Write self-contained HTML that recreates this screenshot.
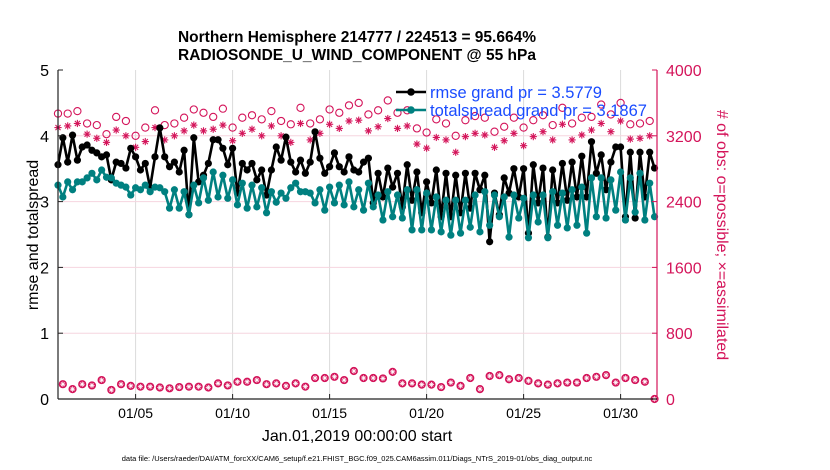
<!DOCTYPE html>
<html><head><meta charset="utf-8">
<style>
html,body{margin:0;padding:0;background:#fff;}
svg{display:block;font-family:"Liberation Sans",sans-serif;}
</style></head>
<body>
<svg id="chart" width="830" height="470" viewBox="0 0 830 470" xmlns="http://www.w3.org/2000/svg">
<text x="357" y="42" text-anchor="middle" font-size="15.5" font-weight="bold">Northern Hemisphere 214777 / 224513 = 95.664%</text>
<text x="357" y="60" text-anchor="middle" font-size="15.5" font-weight="bold">RADIOSONDE_U_WIND_COMPONENT @ 55 hPa</text>
<g id="grid"></g>
<g id="marks"></g>
<g id="axes"></g>
<text transform="translate(38,235) rotate(-90)" text-anchor="middle" font-size="16">rmse and totalspread</text>
<text transform="translate(717,235) rotate(90)" text-anchor="middle" font-size="16" fill="#d4145a"># of obs: o=possible; ×=assimilated</text>
<text x="357" y="441" text-anchor="middle" font-size="16">Jan.01,2019 00:00:00 start</text>
<text x="357" y="461" text-anchor="middle" font-size="7.5">data file: /Users/raeder/DAI/ATM_forcXX/CAM6_setup/f.e21.FHIST_BGC.f09_025.CAM6assim.011/Diags_NTrS_2019-01/obs_diag_output.nc</text>
<g id="legend"></g>
</svg>
<script>
const rmse = [3.56,3.97,3.6,4.01,3.63,3.83,3.86,3.78,3.74,3.68,3.71,3.33,3.6,3.58,3.51,3.81,3.68,3.48,3.58,3.21,3.68,4.12,3.68,3.53,3.6,3.45,3.78,2.8,3.97,3.3,3.4,
3.58,3.94,3.94,3.81,3.56,3.81,3.13,3.58,3.48,3.58,3.33,3.48,3.1,3.48,3.83,3.63,3.98,3.6,3.45,3.63,3.43,3.6,4.06,3.66,3.43,3.53,3.74,3.53,3.45,3.68,3.48,
3.45,3.6,3.66,2.98,3.43,3.07,3.51,3.22,3.43,2.92,3.56,3.02,3.45,2.83,3.3,2.98,3.48,2.77,3.43,2.77,3.4,2.83,3.43,2.9,3.43,3.18,3.4,2.39,3.13,2.8,3.36,3.13,
3.5,3.07,3.5,2.52,3.56,2.98,3.51,2.46,3.48,2.98,3.58,3.02,3.6,3.07,3.69,3.07,3.91,3.43,3.71,3.18,3.6,3.83,3.83,2.77,3.75,2.75,3.75,3.07,3.75,3.51];
const spread = [3.25,3.07,3.3,3.18,3.3,3.3,3.36,3.43,3.33,3.48,3.37,3.36,3.28,3.25,3.22,3.1,3.21,3.18,3.25,3.15,3.22,3.21,3.15,2.9,3.18,2.9,3.15,2.8,3.25,2.98,3.36,
3.02,3.45,3.07,3.4,3.05,3.33,2.95,3.28,2.9,3.25,2.92,3.21,2.83,3.15,2.99,3.13,3.05,3.21,3.28,3.15,3.15,3.13,2.98,3.18,2.87,3.22,2.98,3.25,2.95,3.3,2.92,
3.18,2.87,3.28,2.92,3.1,2.72,3.15,2.77,3.1,2.75,3.18,2.57,3.18,2.57,3.13,2.57,3.07,2.54,3.02,2.49,3.02,2.52,3.02,2.61,3.1,2.54,3.15,2.64,3.1,2.77,3.07,2.46,
3.1,2.75,3.05,2.45,3.1,2.69,3.1,2.45,3.15,2.64,3.13,2.6,3.18,2.64,3.22,2.52,3.36,2.77,3.36,2.75,3.33,2.87,3.45,2.72,3.36,2.84,3.43,2.72,3.28,2.77];
// obs counts at 00Z/12Z
const possibleMain = [3470,3470,3500,3350,3330,3220,3430,3380,3200,3300,3510,3330,3350,3420,3520,3480,3430,3530,3300,3420,3450,3400,3500,3380,3340,3540,3350,3400,3520,3480,3570,3600,3460,3510,3630,3480,3510,3290,3240,3400,3350,3200,3390,3440,3420,3250,3310,3420,3300,3390,3450,3330,3540,3350,3420,3430,3580,3460,3600,3340,3350,3380];
const assimMain = [3300,3320,3350,3220,3170,3120,3270,3200,3060,3130,3300,3150,3200,3260,3330,3260,3280,3330,3140,3230,3280,3200,3320,3200,3120,3350,3150,3230,3340,3290,3380,3390,3260,3310,3410,3290,3320,3100,3050,3180,3150,3000,3190,3230,3210,3060,3140,3230,3080,3190,3250,3150,3340,3150,3210,3270,3350,3250,3380,3160,3170,3200];
// obs counts at 06Z/18Z
const possibleOff = [180,120,180,165,230,110,180,160,150,150,140,130,145,150,150,140,190,165,210,210,230,180,190,160,190,150,255,255,270,230,340,255,255,250,330,190,190,175,175,145,200,160,255,120,280,290,240,255,220,190,175,190,200,200,255,270,290,200,255,230,210,0];
const assimOff = [180,120,180,165,230,110,180,160,150,150,140,130,145,150,150,140,190,165,210,210,230,180,190,160,190,150,255,255,270,230,340,255,255,250,330,190,190,175,175,145,200,160,255,120,280,290,240,255,220,190,175,190,200,200,255,270,290,200,255,230,210,0];
const leftTicks = [0,1,2,3,4,5];
const rightTicks = [0,800,1600,2400,3200,4000];
const dayTicks = [5,10,15,20,25,30];
const dayTickLabels = ['01/05','01/10','01/15','01/20','01/25','01/30'];
const legendLabels = ['rmse grand pr = 3.5779','totalspread grand pr = 3.1867'];

const NS='http://www.w3.org/2000/svg';
const X0=58, X1=657, Y0=399, Y1=70;
const PXDAY=19.4;
const xDay = d => X0 + (d-1)*PXDAY;
const xIdx = i => xDay(1 + i*0.25);
const yL = v => Y0 - v/5*(Y0-Y1);
const yR = v => Y0 - v/4000*(Y0-Y1);
const RED='#d4145a', TEAL='#008080';
function mk(tag, attrs, parent){const e=document.createElementNS(NS,tag);for(const k in attrs)e.setAttribute(k,attrs[k]);parent.appendChild(e);return e;}
const grid=document.getElementById('grid'), marks=document.getElementById('marks'), axes=document.getElementById('axes'), legend=document.getElementById('legend');

dayTicks.forEach((d,i)=>{
  const g=mk('line',{x1:xDay(d),x2:xDay(d),y1:Y1,y2:Y0,stroke:'#dadada','stroke-width':1},grid);
  
  
  const t=mk('line',{x1:xDay(d),x2:xDay(d),y1:Y0,y2:Y0-5,stroke:'#222','stroke-width':1},axes);
  
  
  const l=mk('text',{x:xDay(d),y:Y0+19,'text-anchor':'middle','font-size':14},axes);
  l.textContent=dayTickLabels[i];
  
  
});
rightTicks.forEach(v=>{
  if(v>0&&v<4000){
    const g=mk('line',{x1:X0,x2:X1,y1:yR(v),y2:yR(v),stroke:'#f6d5df','stroke-width':1},grid);
    
    
  }
  const t=mk('line',{x1:X1,x2:X1-5,y1:yR(v),y2:yR(v),stroke:RED,'stroke-width':1},axes);
  
  
  const l=mk('text',{x:X1+9,y:yR(v)+6,'font-size':16,fill:RED},axes);
  l.textContent=v;
  
  
});
leftTicks.forEach(v=>{
  const t=mk('line',{x1:X0,x2:X0+5,y1:yL(v),y2:yL(v),stroke:'#222','stroke-width':1},axes);
  
  
  const l=mk('text',{x:X0-9,y:yL(v)+6,'text-anchor':'end','font-size':16},axes);
  l.textContent=v;
  
  
});
const la=mk('line',{x1:X0,x2:X0,y1:Y1,y2:Y0,stroke:'#222','stroke-width':1.2},axes);


const ra=mk('line',{x1:X1,x2:X1,y1:Y1,y2:Y0,stroke:RED,'stroke-width':1.2},axes);


const ba=mk('line',{x1:X0,x2:X1,y1:Y0,y2:Y0,stroke:'#222','stroke-width':1.2},axes);



function star(x,y,r,parent,name){
  const g=mk('g',{stroke:RED,'stroke-width':1.1},parent);
  
  
  for(let k=0;k<4;k++){const a=k*Math.PI/4;mk('line',{x1:x-r*Math.cos(a),y1:y-r*Math.sin(a),x2:x+r*Math.cos(a),y2:y+r*Math.sin(a)},g);}
}
function ring(x,y,parent,name){
  const c=mk('circle',{cx:x,cy:y,r:3.6,fill:'none',stroke:RED,'stroke-width':1.1},parent);
  
  
}
possibleMain.forEach((v,k)=>{ring(xIdx(2*k),yR(v),marks,'obs-possible-point');});
assimMain.forEach((v,k)=>{star(xIdx(2*k),yR(v),3.6,marks,'obs-assimilated-point');});
possibleOff.forEach((v,k)=>{const c=mk('circle',{cx:xIdx(2*k+1),cy:yR(v),r:3.6,fill:RED,stroke:RED,'stroke-width':1},marks);
  
  });
assimOff.forEach((v,k)=>{const g=mk('g',{stroke:'#fff','stroke-width':0.8},marks);
  
  
  const x=xIdx(2*k+1),y=yR(v);for(let a=0;a<4;a++){const t=a*Math.PI/4;mk('line',{x1:x-2.6*Math.cos(t),y1:y-2.6*Math.sin(t),x2:x+2.6*Math.cos(t),y2:y+2.6*Math.sin(t)},g);}});

function series(vals,color,name){
  const pts=vals.map((v,i)=>xIdx(i).toFixed(1)+','+yL(v).toFixed(1)).join(' ');
  const pl=mk('polyline',{points:pts,fill:'none',stroke:color,'stroke-width':2.6,'stroke-linejoin':'round'},marks);
  
  
  vals.forEach((v,i)=>{const c=mk('circle',{cx:xIdx(i),cy:yL(v),r:3.6,fill:color},marks);
    
    });
}
series(rmse,'#000','rmse');
series(spread,TEAL,'totalspread');

[['#000',92],[TEAL,110]].forEach((s,i)=>{
  const ln=mk('line',{x1:396,x2:426,y1:s[1],y2:s[1],stroke:s[0],'stroke-width':2.6},legend);
  
  
  const c=mk('circle',{cx:411,cy:s[1],r:3.8,fill:s[0]},legend);
  
  
  const t=mk('text',{x:430,y:s[1]+6,'font-size':16.5,fill:'#1a4cff'},legend);
  t.textContent=legendLabels[i];
  
  
});
</script>
</body></html>
